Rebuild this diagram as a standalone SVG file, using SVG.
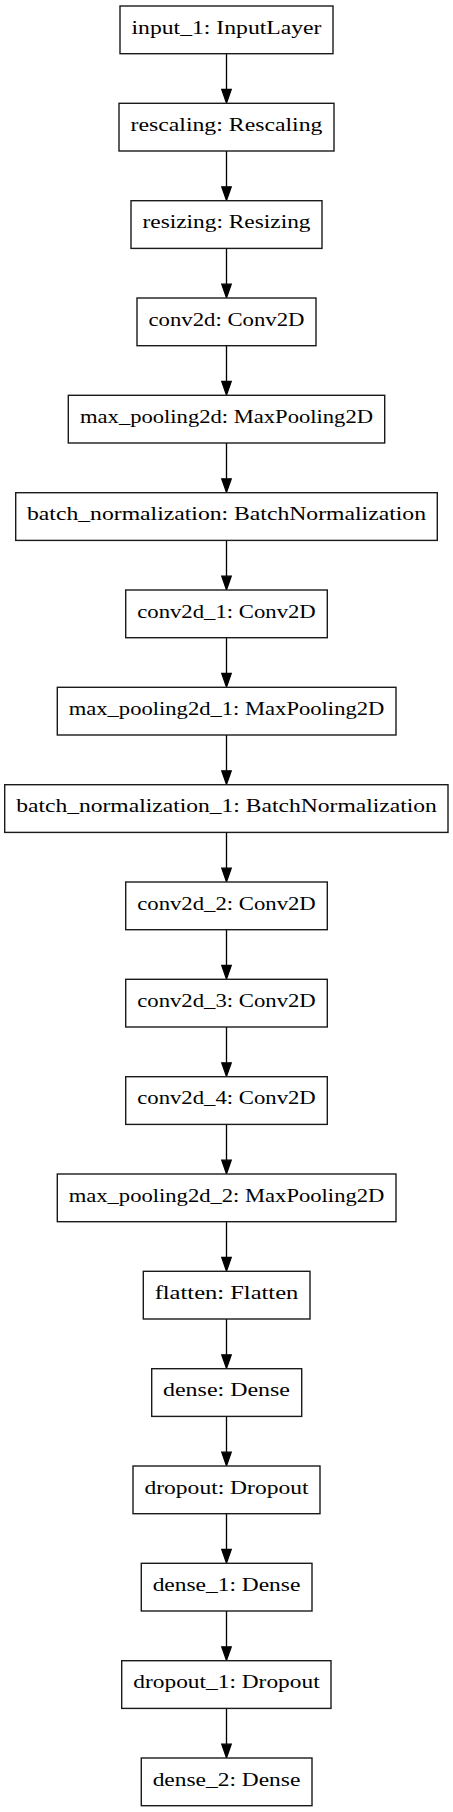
<svg xmlns="http://www.w3.org/2000/svg" width="453" height="1812" viewBox="0 0 453 1812">
<style>
.n rect{fill:#fff;stroke:#1a1a1a;stroke-width:1.4}
.n text{font-family:"Liberation Serif","Times New Roman",serif;font-size:18.67px;fill:#000;text-anchor:middle}
.e line{stroke:#000;stroke-width:1.33}
.e polygon{fill:#000;stroke:#000;stroke-width:1.33}
</style>
<rect width="453" height="1812" fill="#fff"/>
<g id="connectors" class="e">
<line x1="226.5" y1="53.7" x2="226.5" y2="89.5"/><polygon points="221.8,89.5 231.2,89.5 226.5,103"/>
<line x1="226.5" y1="151" x2="226.5" y2="186.8"/><polygon points="221.8,186.8 231.2,186.8 226.5,200.3"/>
<line x1="226.5" y1="248.3" x2="226.5" y2="284.2"/><polygon points="221.8,284.2 231.2,284.2 226.5,297.7"/>
<line x1="226.5" y1="345.7" x2="226.5" y2="381.5"/><polygon points="221.8,381.5 231.2,381.5 226.5,395"/>
<line x1="226.5" y1="443" x2="226.5" y2="478.8"/><polygon points="221.8,478.8 231.2,478.8 226.5,492.3"/>
<line x1="226.5" y1="540.3" x2="226.5" y2="576.2"/><polygon points="221.8,576.2 231.2,576.2 226.5,589.7"/>
<line x1="226.5" y1="637.7" x2="226.5" y2="673.5"/><polygon points="221.8,673.5 231.2,673.5 226.5,687"/>
<line x1="226.5" y1="735" x2="226.5" y2="770.8"/><polygon points="221.8,770.8 231.2,770.8 226.5,784.3"/>
<line x1="226.5" y1="832.3" x2="226.5" y2="868.2"/><polygon points="221.8,868.2 231.2,868.2 226.5,881.7"/>
<line x1="226.5" y1="929.7" x2="226.5" y2="965.5"/><polygon points="221.8,965.5 231.2,965.5 226.5,979"/>
<line x1="226.5" y1="1027" x2="226.5" y2="1062.8"/><polygon points="221.8,1062.8 231.2,1062.8 226.5,1076.3"/>
<line x1="226.5" y1="1124.3" x2="226.5" y2="1160.2"/><polygon points="221.8,1160.2 231.2,1160.2 226.5,1173.7"/>
<line x1="226.5" y1="1221.7" x2="226.5" y2="1257.5"/><polygon points="221.8,1257.5 231.2,1257.5 226.5,1271"/>
<line x1="226.5" y1="1319" x2="226.5" y2="1354.8"/><polygon points="221.8,1354.8 231.2,1354.8 226.5,1368.3"/>
<line x1="226.5" y1="1416.3" x2="226.5" y2="1452.2"/><polygon points="221.8,1452.2 231.2,1452.2 226.5,1465.7"/>
<line x1="226.5" y1="1513.7" x2="226.5" y2="1549.5"/><polygon points="221.8,1549.5 231.2,1549.5 226.5,1563"/>
<line x1="226.5" y1="1611" x2="226.5" y2="1646.8"/><polygon points="221.8,1646.8 231.2,1646.8 226.5,1660.3"/>
<line x1="226.5" y1="1708.3" x2="226.5" y2="1744.2"/><polygon points="221.8,1744.2 231.2,1744.2 226.5,1757.7"/>
</g>
<g id="input_1" class="n"><rect x="120" y="6" width="213" height="47.7"/><text x="226.5" y="33.7" textLength="190" lengthAdjust="spacingAndGlyphs">input_1: InputLayer</text></g>
<g id="rescaling" class="n"><rect x="119" y="103.3" width="215" height="47.7"/><text x="226.5" y="131" textLength="192" lengthAdjust="spacingAndGlyphs">rescaling: Rescaling</text></g>
<g id="resizing" class="n"><rect x="131" y="200.7" width="191" height="47.7"/><text x="226.5" y="228.4" textLength="168" lengthAdjust="spacingAndGlyphs">resizing: Resizing</text></g>
<g id="conv2d" class="n"><rect x="137" y="298" width="179" height="47.7"/><text x="226.5" y="325.7" textLength="156" lengthAdjust="spacingAndGlyphs">conv2d: Conv2D</text></g>
<g id="max_pooling2d" class="n"><rect x="68.3" y="395.3" width="316.4" height="47.7"/><text x="226.5" y="423" textLength="293" lengthAdjust="spacingAndGlyphs">max_pooling2d: MaxPooling2D</text></g>
<g id="batch_normalization" class="n"><rect x="15.7" y="492.7" width="421.6" height="47.7"/><text x="226.5" y="520.4" textLength="399" lengthAdjust="spacingAndGlyphs">batch_normalization: BatchNormalization</text></g>
<g id="conv2d_1" class="n"><rect x="125.7" y="590" width="201.6" height="47.7"/><text x="226.5" y="617.7" textLength="178.6" lengthAdjust="spacingAndGlyphs">conv2d_1: Conv2D</text></g>
<g id="max_pooling2d_1" class="n"><rect x="57.3" y="687.3" width="338.7" height="47.7"/><text x="226.5" y="715" textLength="315.7" lengthAdjust="spacingAndGlyphs">max_pooling2d_1: MaxPooling2D</text></g>
<g id="batch_normalization_1" class="n"><rect x="4.7" y="784.7" width="443.3" height="47.7"/><text x="226.5" y="812.4" textLength="420.7" lengthAdjust="spacingAndGlyphs">batch_normalization_1: BatchNormalization</text></g>
<g id="conv2d_2" class="n"><rect x="125.7" y="882" width="201.6" height="47.7"/><text x="226.5" y="909.7" textLength="178.6" lengthAdjust="spacingAndGlyphs">conv2d_2: Conv2D</text></g>
<g id="conv2d_3" class="n"><rect x="125.7" y="979.3" width="201.6" height="47.7"/><text x="226.5" y="1007" textLength="178.6" lengthAdjust="spacingAndGlyphs">conv2d_3: Conv2D</text></g>
<g id="conv2d_4" class="n"><rect x="125.7" y="1076.7" width="201.6" height="47.7"/><text x="226.5" y="1104.4" textLength="178.6" lengthAdjust="spacingAndGlyphs">conv2d_4: Conv2D</text></g>
<g id="max_pooling2d_2" class="n"><rect x="57.3" y="1174" width="338.7" height="47.7"/><text x="226.5" y="1201.7" textLength="315.7" lengthAdjust="spacingAndGlyphs">max_pooling2d_2: MaxPooling2D</text></g>
<g id="flatten" class="n"><rect x="143.3" y="1271.3" width="166.7" height="47.7"/><text x="226.5" y="1299" textLength="143.7" lengthAdjust="spacingAndGlyphs">flatten: Flatten</text></g>
<g id="dense" class="n"><rect x="151.7" y="1368.7" width="150" height="47.7"/><text x="226.5" y="1396.4" textLength="127" lengthAdjust="spacingAndGlyphs">dense: Dense</text></g>
<g id="dropout" class="n"><rect x="133" y="1466" width="187" height="47.7"/><text x="226.5" y="1493.7" textLength="164" lengthAdjust="spacingAndGlyphs">dropout: Dropout</text></g>
<g id="dense_1" class="n"><rect x="141.3" y="1563.3" width="170.7" height="47.7"/><text x="226.5" y="1591" textLength="147.7" lengthAdjust="spacingAndGlyphs">dense_1: Dense</text></g>
<g id="dropout_1" class="n"><rect x="121.7" y="1660.7" width="209.3" height="47.7"/><text x="226.5" y="1688.4" textLength="186.3" lengthAdjust="spacingAndGlyphs">dropout_1: Dropout</text></g>
<g id="dense_2" class="n"><rect x="141.3" y="1758" width="170.7" height="47.7"/><text x="226.5" y="1785.7" textLength="147.7" lengthAdjust="spacingAndGlyphs">dense_2: Dense</text></g>
</svg>
